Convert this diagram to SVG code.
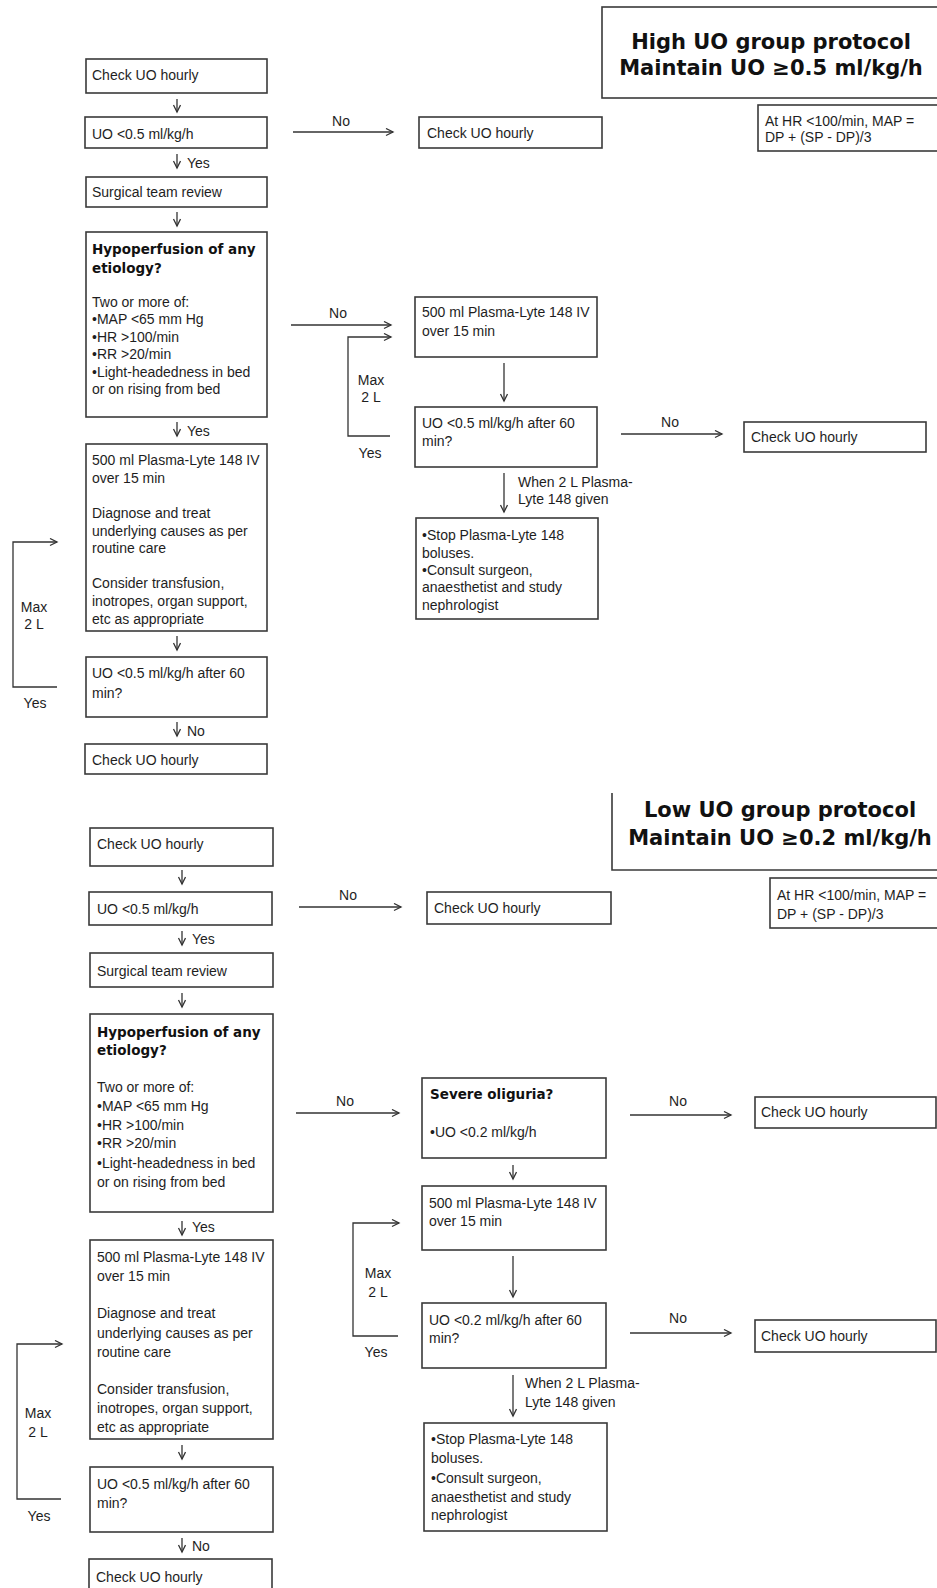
<svg xmlns="http://www.w3.org/2000/svg" width="937" height="1588" viewBox="0 0 937 1588">
<style>
.box{fill:#fff;stroke:#3a3a3a;stroke-width:1.6}
.t{font-family:"Liberation Sans",Arial,sans-serif;font-size:14px;fill:#1e1e1e}
.m{text-anchor:middle}
.b{font-family:"DejaVu Sans",sans-serif;font-weight:bold;font-size:13.5px;fill:#111}
.ti{font-family:"DejaVu Sans",sans-serif;font-weight:bold;font-size:21px;fill:#111;text-anchor:middle}
.c{stroke:#333;stroke-width:1.3;fill:none}
</style>
<defs>
<marker id="ah" markerWidth="10" markerHeight="10" refX="8" refY="4" orient="auto" markerUnits="userSpaceOnUse"><path d="M1,0.5 L8,4 L1,7.5" fill="none" stroke="#333" stroke-width="1.3"/></marker>
</defs>
<rect width="937" height="1588" fill="#fff"/>

<!-- TOP SECTION -->
<g id="title-high"><rect class="box" x="602" y="7" width="345" height="91"/><text class="ti" x="771" y="48.5">High UO group protocol</text><text class="ti" x="771" y="74.5">Maintain UO ≥0.5 ml/kg/h</text></g>
<g id="hr-top"><rect class="box" x="758" y="105" width="190" height="46"/><text class="t" x="765" y="126">At HR &lt;100/min, MAP =</text><text class="t" x="765" y="141.5">DP + (SP - DP)/3</text></g>
<g id="t1"><rect class="box" x="86" y="59" width="181" height="34"/><text class="t" x="92" y="79.5">Check UO hourly</text></g>
<g id="t2"><rect class="box" x="85" y="117" width="182" height="31"/><text class="t" x="92" y="138.5">UO &lt;0.5 ml/kg/h</text></g>
<g id="t3"><rect class="box" x="419" y="117" width="183" height="31"/><text class="t" x="427" y="137.5">Check UO hourly</text></g>
<g id="t4"><rect class="box" x="86" y="177" width="181" height="30"/><text class="t" x="92" y="197">Surgical team review</text></g>
<g id="t5"><rect class="box" x="86" y="232" width="181" height="185"/>
<text class="b" x="92" y="254">Hypoperfusion of any</text><text class="b" x="92" y="273">etiology?</text>
<text class="t" x="92" y="306.5">Two or more of:</text><text class="t" x="92" y="324">•MAP &lt;65 mm Hg</text><text class="t" x="92" y="341.5">•HR &gt;100/min</text><text class="t" x="92" y="359">•RR &gt;20/min</text><text class="t" x="92" y="376.5">•Light-headedness in bed</text><text class="t" x="92" y="394">or on rising from bed</text></g>
<g id="t6"><rect class="box" x="86" y="444" width="181" height="187"/>
<text class="t" x="92" y="464.5">500 ml Plasma-Lyte 148 IV</text><text class="t" x="92" y="482.5">over 15 min</text>
<text class="t" x="92" y="517.5">Diagnose and treat</text><text class="t" x="92" y="535.5">underlying causes as per</text><text class="t" x="92" y="553">routine care</text>
<text class="t" x="92" y="588">Consider transfusion,</text><text class="t" x="92" y="606">inotropes, organ support,</text><text class="t" x="92" y="623.5">etc as appropriate</text></g>
<g id="t7"><rect class="box" x="86" y="657" width="181" height="60"/><text class="t" x="92" y="677.5">UO &lt;0.5 ml/kg/h after 60</text><text class="t" x="92" y="697.5">min?</text></g>
<g id="t8"><rect class="box" x="85" y="744" width="182" height="30"/><text class="t" x="92" y="764.5">Check UO hourly</text></g>
<g id="t9"><rect class="box" x="415" y="297" width="182" height="60"/><text class="t" x="422" y="316.5">500 ml Plasma-Lyte 148 IV</text><text class="t" x="422" y="335.5">over 15 min</text></g>
<g id="t10"><rect class="box" x="415" y="407" width="182" height="60"/><text class="t" x="422" y="427.5">UO &lt;0.5 ml/kg/h after 60</text><text class="t" x="422" y="445.5">min?</text></g>
<g id="t11"><rect class="box" x="744" y="422" width="182" height="30"/><text class="t" x="751" y="441.5">Check UO hourly</text></g>
<g id="t12"><rect class="box" x="416" y="518" width="182" height="101"/>
<text class="t" x="422" y="539.5">•Stop Plasma-Lyte 148</text><text class="t" x="422" y="557.5">boluses.</text><text class="t" x="422" y="574.5">•Consult surgeon,</text><text class="t" x="422" y="591.5">anaesthetist and study</text><text class="t" x="422" y="609.5">nephrologist</text></g>

<!-- BOTTOM SECTION -->
<g id="title-low"><path class="box" style="fill:none" d="M612,793 V870 H945"/><text class="ti" x="780" y="816.5">Low UO group protocol</text><text class="ti" x="780" y="844.5">Maintain UO ≥0.2 ml/kg/h</text></g>
<g id="hr-bottom"><rect class="box" x="770" y="878" width="180" height="50"/><text class="t" x="777" y="899.5">At HR &lt;100/min, MAP =</text><text class="t" x="777" y="918.5">DP + (SP - DP)/3</text></g>
<g id="b1"><rect class="box" x="90" y="828" width="183" height="38"/><text class="t" x="97" y="848.5">Check UO hourly</text></g>
<g id="b2"><rect class="box" x="89" y="892" width="183" height="33"/><text class="t" x="97" y="913.5">UO &lt;0.5 ml/kg/h</text></g>
<g id="b3"><rect class="box" x="90" y="953" width="183" height="34"/><text class="t" x="97" y="975.5">Surgical team review</text></g>
<g id="b4"><rect class="box" x="90" y="1014" width="183" height="198"/>
<text class="b" x="97" y="1037">Hypoperfusion of any</text><text class="b" x="97" y="1055">etiology?</text>
<text class="t" x="97" y="1091.5">Two or more of:</text><text class="t" x="97" y="1110.5">•MAP &lt;65 mm Hg</text><text class="t" x="97" y="1129.5">•HR &gt;100/min</text><text class="t" x="97" y="1148">•RR &gt;20/min</text><text class="t" x="97" y="1167.5">•Light-headedness in bed</text><text class="t" x="97" y="1186.5">or on rising from bed</text></g>
<g id="b5"><rect class="box" x="90" y="1240" width="183" height="199"/>
<text class="t" x="97" y="1261.5">500 ml Plasma-Lyte 148 IV</text><text class="t" x="97" y="1280.5">over 15 min</text>
<text class="t" x="97" y="1317.5">Diagnose and treat</text><text class="t" x="97" y="1337.5">underlying causes as per</text><text class="t" x="97" y="1356.5">routine care</text>
<text class="t" x="97" y="1393.5">Consider transfusion,</text><text class="t" x="97" y="1412.5">inotropes, organ support,</text><text class="t" x="97" y="1431.5">etc as appropriate</text></g>
<g id="b6"><rect class="box" x="90" y="1467" width="183" height="65"/><text class="t" x="97" y="1488.5">UO &lt;0.5 ml/kg/h after 60</text><text class="t" x="97" y="1507.5">min?</text></g>
<g id="b7"><rect class="box" x="89" y="1559" width="183" height="40"/><text class="t" x="96" y="1581.5">Check UO hourly</text></g>
<g id="b8"><rect class="box" x="427" y="892" width="184" height="32"/><text class="t" x="434" y="912.5">Check UO hourly</text></g>
<g id="b9"><rect class="box" x="422" y="1078" width="184" height="80"/><text class="b" x="430" y="1099">Severe oliguria?</text><text class="t" x="430" y="1136.5">•UO &lt;0.2 ml/kg/h</text></g>
<g id="b10"><rect class="box" x="755" y="1097" width="181" height="31"/><text class="t" x="761" y="1116.5">Check UO hourly</text></g>
<g id="b11"><rect class="box" x="422" y="1186" width="184" height="64"/><text class="t" x="429" y="1207.5">500 ml Plasma-Lyte 148 IV</text><text class="t" x="429" y="1225.5">over 15 min</text></g>
<g id="b12"><rect class="box" x="422" y="1303" width="184" height="65"/><text class="t" x="429" y="1324.5">UO &lt;0.2 ml/kg/h after 60</text><text class="t" x="429" y="1342.5">min?</text></g>
<g id="b13"><rect class="box" x="755" y="1320" width="181" height="32"/><text class="t" x="761" y="1340.5">Check UO hourly</text></g>
<g id="b14"><rect class="box" x="424" y="1423" width="183" height="108"/>
<text class="t" x="431" y="1443.5">•Stop Plasma-Lyte 148</text><text class="t" x="431" y="1462.5">boluses.</text><text class="t" x="431" y="1482.5">•Consult surgeon,</text><text class="t" x="431" y="1501.5">anaesthetist and study</text><text class="t" x="431" y="1519.5">nephrologist</text></g>

<g id="connectors">
<!-- top -->
<line class="c" x1="177" y1="99" x2="177" y2="112" marker-end="url(#ah)"/>
<line class="c" x1="177" y1="154" x2="177" y2="168" marker-end="url(#ah)"/>
<text class="t" x="187" y="167.5">Yes</text>
<line class="c" x1="177" y1="212" x2="177" y2="226" marker-end="url(#ah)"/>
<line class="c" x1="177" y1="422" x2="177" y2="436" marker-end="url(#ah)"/>
<text class="t" x="187" y="436">Yes</text>
<line class="c" x1="177" y1="636" x2="177" y2="650" marker-end="url(#ah)"/>
<line class="c" x1="177" y1="722" x2="177" y2="736" marker-end="url(#ah)"/>
<text class="t" x="187" y="735.5">No</text>
<path class="c" d="M57,687 H13 V542 H57" marker-end="url(#ah)"/>
<text class="t m" x="34" y="611.5">Max</text><text class="t m" x="34" y="628.5">2 L</text><text class="t m" x="35" y="707.5">Yes</text>
<line class="c" x1="293" y1="132" x2="393" y2="132" marker-end="url(#ah)"/>
<text class="t m" x="341" y="126">No</text>
<line class="c" x1="291" y1="325" x2="391" y2="325" marker-end="url(#ah)"/>
<text class="t m" x="338" y="318">No</text>
<path class="c" d="M390,436 H348 V337 H391" marker-end="url(#ah)"/>
<text class="t m" x="371" y="384.5">Max</text><text class="t m" x="371" y="401.5">2 L</text><text class="t m" x="370" y="457.5">Yes</text>
<line class="c" x1="504" y1="363" x2="504" y2="401" marker-end="url(#ah)"/>
<line class="c" x1="621" y1="434" x2="722" y2="434" marker-end="url(#ah)"/>
<text class="t m" x="670" y="427">No</text>
<line class="c" x1="504" y1="473" x2="504" y2="512" marker-end="url(#ah)"/>
<text class="t" x="518" y="486.5">When 2 L Plasma-</text><text class="t" x="518" y="503.5">Lyte 148 given</text>
<!-- bottom -->
<line class="c" x1="182" y1="870" x2="182" y2="884" marker-end="url(#ah)"/>
<line class="c" x1="182" y1="931" x2="182" y2="945" marker-end="url(#ah)"/>
<text class="t" x="192" y="943.5">Yes</text>
<line class="c" x1="182" y1="993" x2="182" y2="1007" marker-end="url(#ah)"/>
<line class="c" x1="182" y1="1221" x2="182" y2="1235" marker-end="url(#ah)"/>
<text class="t" x="192" y="1231.5">Yes</text>
<line class="c" x1="182" y1="1445" x2="182" y2="1459" marker-end="url(#ah)"/>
<line class="c" x1="182" y1="1538" x2="182" y2="1552" marker-end="url(#ah)"/>
<text class="t" x="192" y="1550.5">No</text>
<path class="c" d="M61,1499 H17 V1344 H62" marker-end="url(#ah)"/>
<text class="t m" x="38" y="1417.5">Max</text><text class="t m" x="38" y="1436.5">2 L</text><text class="t m" x="39" y="1520.5">Yes</text>
<line class="c" x1="299" y1="907" x2="401" y2="907" marker-end="url(#ah)"/>
<text class="t m" x="348" y="900">No</text>
<line class="c" x1="296" y1="1113" x2="399" y2="1113" marker-end="url(#ah)"/>
<text class="t m" x="345" y="1106">No</text>
<line class="c" x1="630" y1="1115" x2="731" y2="1115" marker-end="url(#ah)"/>
<text class="t m" x="678" y="1106">No</text>
<line class="c" x1="513" y1="1165" x2="513" y2="1179" marker-end="url(#ah)"/>
<path class="c" d="M398,1336 H353 V1223 H399" marker-end="url(#ah)"/>
<text class="t m" x="378" y="1277.5">Max</text><text class="t m" x="378" y="1296.5">2 L</text><text class="t m" x="376" y="1356.5">Yes</text>
<line class="c" x1="513" y1="1256" x2="513" y2="1297" marker-end="url(#ah)"/>
<line class="c" x1="630" y1="1333" x2="731" y2="1333" marker-end="url(#ah)"/>
<text class="t m" x="678" y="1323">No</text>
<line class="c" x1="513" y1="1375" x2="513" y2="1416" marker-end="url(#ah)"/>
<text class="t" x="525" y="1387.5">When 2 L Plasma-</text><text class="t" x="525" y="1406.5">Lyte 148 given</text>
</g>
</svg>
